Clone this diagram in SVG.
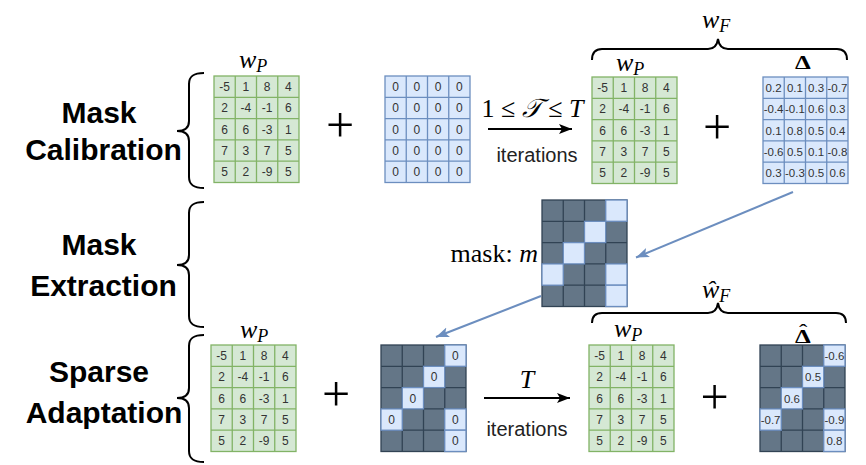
<svg xmlns="http://www.w3.org/2000/svg" width="866" height="465" viewBox="0 0 866 465">
<defs>
<style>
.gbox{fill:#d5e8d4;stroke:#82b366;stroke-width:1.3}
.ggrid{fill:none;stroke:#82b366;stroke-width:1.3}
.bbox{fill:#dae8fc;stroke:#6c8ebf;stroke-width:1.3}
.bgrid{fill:none;stroke:#6c8ebf;stroke-width:1.3}
.dbox{fill:#647687;stroke:#314354;stroke-width:1.3}
.dgrid{fill:none;stroke:#314354;stroke-width:1.3}
.lc{fill:#dae8fc;stroke:#6c8ebf;stroke-width:1.3}
.n{font-family:"Liberation Sans",Arial,sans-serif;font-size:12px;fill:#333;text-anchor:middle}
.d{font-family:"Liberation Sans",Arial,sans-serif;font-size:11.5px;fill:#333;text-anchor:middle}
.lab{font-family:"Liberation Sans",Arial,sans-serif;font-size:30px;font-weight:bold;fill:#000;text-anchor:middle}
.it{font-family:"Liberation Sans",Arial,sans-serif;font-size:20px;fill:#222;text-anchor:middle}
.m{font-family:"Liberation Serif","Times New Roman",serif;font-size:26px;fill:#000}
.dl{font-family:"Liberation Serif","Times New Roman",serif;font-size:18px;font-weight:bold;fill:#000}
.pl{font-family:"Liberation Serif","Times New Roman",serif;font-size:50px;fill:#000;text-anchor:middle}
.br{fill:none;stroke:#000;stroke-width:2}
.ka{fill:none;stroke:#000;stroke-width:2}
.ba{fill:none;stroke:#6c8ebf;stroke-width:2}
</style>
<marker id="ak" markerUnits="userSpaceOnUse" markerWidth="14" markerHeight="12" refX="13" refY="5" orient="auto">
<path d="M0,0 L13,5 L0,10 L3,5 Z" fill="#000"/>
</marker>
<marker id="ab" markerUnits="userSpaceOnUse" markerWidth="14" markerHeight="12" refX="13" refY="5" orient="auto">
<path d="M0,0 L13,5 L0,10 L3,5 Z" fill="#6c8ebf"/>
</marker>
</defs>
<rect width="866" height="465" fill="#fff"/>

<g id="stage-labels">
<text class="lab" x="99" y="123">Mask</text>
<text class="lab" x="103.5" y="160">Calibration</text>
<text class="lab" x="99" y="255">Mask</text>
<text class="lab" x="103.5" y="296">Extraction</text>
<text class="lab" x="99" y="382">Sparse</text>
<text class="lab" x="104" y="423">Adaptation</text>
</g>

<g id="braces">
<path class="br" d="M204,73 C194,73 189,76 189,84 L189,121 C189,128 185,131 177,131 C185,131 189,134 189,141 L189,177 C189,185 194,188 204,188"/>
<path class="br" d="M204,202 C194,202 189,205 189,213 L189,255 C189,262 185,265 177,265 C185,265 189,268 189,275 L189,316 C189,324 194,327 204,327"/>
<path class="br" d="M204,335 C194,335 189,338 189,346 L189,388 C189,395 185,398 177,398 C185,398 189,401 189,408 L189,451 C189,459 194,462 204,462"/>
<path class="br" d="M592,60 C592,53 595,49 602,49 L708,49 C714,49 717,46 718,39 C719,46 722,49 728,49 L837,49 C844,49 847,53 847,60"/>
<path class="br" d="M592,323 C592,316 595,313 602,313 L708,313 C714,313 717,310 718,303 C719,310 722,313 728,313 L836,313 C843,313 846,316 846,323"/>
</g>

<g id="wp-calib" transform="translate(214,76)">
<rect class="gbox" width="85" height="106.5"/>
<path class="ggrid" d="M21.25,0V106.5M42.5,0V106.5M63.75,0V106.5M0,21.3H85M0,42.6H85M0,63.9H85M0,85.2H85"/>
<text class="n" x="10.6" y="15">-5</text><text class="n" x="31.9" y="15">1</text><text class="n" x="53.1" y="15">8</text><text class="n" x="74.4" y="15">4</text>
<text class="n" x="10.6" y="36.3">2</text><text class="n" x="31.9" y="36.3">-4</text><text class="n" x="53.1" y="36.3">-1</text><text class="n" x="74.4" y="36.3">6</text>
<text class="n" x="10.6" y="57.6">6</text><text class="n" x="31.9" y="57.6">6</text><text class="n" x="53.1" y="57.6">-3</text><text class="n" x="74.4" y="57.6">1</text>
<text class="n" x="10.6" y="78.9">7</text><text class="n" x="31.9" y="78.9">3</text><text class="n" x="53.1" y="78.9">7</text><text class="n" x="74.4" y="78.9">5</text>
<text class="n" x="10.6" y="100.2">5</text><text class="n" x="31.9" y="100.2">2</text><text class="n" x="53.1" y="100.2">-9</text><text class="n" x="74.4" y="100.2">5</text>
</g>
<text id="wp-calib-label" class="m" x="239" y="68"><tspan font-style="italic">w</tspan><tspan font-style="italic" font-size="18" dy="4">P</tspan></text>

<g id="zero-calib" transform="translate(385,76)">
<rect class="bbox" width="85" height="106.5"/>
<path class="bgrid" d="M21.25,0V106.5M42.5,0V106.5M63.75,0V106.5M0,21.3H85M0,42.6H85M0,63.9H85M0,85.2H85"/>
<text class="n" x="10.6" y="15">0</text><text class="n" x="31.9" y="15">0</text><text class="n" x="53.1" y="15">0</text><text class="n" x="74.4" y="15">0</text>
<text class="n" x="10.6" y="36.3">0</text><text class="n" x="31.9" y="36.3">0</text><text class="n" x="53.1" y="36.3">0</text><text class="n" x="74.4" y="36.3">0</text>
<text class="n" x="10.6" y="57.6">0</text><text class="n" x="31.9" y="57.6">0</text><text class="n" x="53.1" y="57.6">0</text><text class="n" x="74.4" y="57.6">0</text>
<text class="n" x="10.6" y="78.9">0</text><text class="n" x="31.9" y="78.9">0</text><text class="n" x="53.1" y="78.9">0</text><text class="n" x="74.4" y="78.9">0</text>
<text class="n" x="10.6" y="100.2">0</text><text class="n" x="31.9" y="100.2">0</text><text class="n" x="53.1" y="100.2">0</text><text class="n" x="74.4" y="100.2">0</text>
</g>

<g id="wp-calib2" transform="translate(592,77)">
<rect class="gbox" width="85" height="106.5"/>
<path class="ggrid" d="M21.25,0V106.5M42.5,0V106.5M63.75,0V106.5M0,21.3H85M0,42.6H85M0,63.9H85M0,85.2H85"/>
<text class="n" x="10.6" y="15">-5</text><text class="n" x="31.9" y="15">1</text><text class="n" x="53.1" y="15">8</text><text class="n" x="74.4" y="15">4</text>
<text class="n" x="10.6" y="36.3">2</text><text class="n" x="31.9" y="36.3">-4</text><text class="n" x="53.1" y="36.3">-1</text><text class="n" x="74.4" y="36.3">6</text>
<text class="n" x="10.6" y="57.6">6</text><text class="n" x="31.9" y="57.6">6</text><text class="n" x="53.1" y="57.6">-3</text><text class="n" x="74.4" y="57.6">1</text>
<text class="n" x="10.6" y="78.9">7</text><text class="n" x="31.9" y="78.9">3</text><text class="n" x="53.1" y="78.9">7</text><text class="n" x="74.4" y="78.9">5</text>
<text class="n" x="10.6" y="100.2">5</text><text class="n" x="31.9" y="100.2">2</text><text class="n" x="53.1" y="100.2">-9</text><text class="n" x="74.4" y="100.2">5</text>
</g>
<text id="wp-calib2-label" class="m" x="616" y="71"><tspan font-style="italic">w</tspan><tspan font-style="italic" font-size="18" dy="4">P</tspan></text>

<g id="delta" transform="translate(763,77)">
<rect class="bbox" width="85" height="106.5"/>
<path class="bgrid" d="M21.25,0V106.5M42.5,0V106.5M63.75,0V106.5M0,21.3H85M0,42.6H85M0,63.9H85M0,85.2H85"/>
<text class="d" x="10.6" y="15">0.2</text><text class="d" x="31.9" y="15">0.1</text><text class="d" x="53.1" y="15">0.3</text><text class="d" x="74.4" y="15">-0.7</text>
<text class="d" x="10.6" y="36.3">-0.4</text><text class="d" x="31.9" y="36.3">-0.1</text><text class="d" x="53.1" y="36.3">0.6</text><text class="d" x="74.4" y="36.3">0.3</text>
<text class="d" x="10.6" y="57.6">0.1</text><text class="d" x="31.9" y="57.6">0.8</text><text class="d" x="53.1" y="57.6">0.5</text><text class="d" x="74.4" y="57.6">0.4</text>
<text class="d" x="10.6" y="78.9">-0.6</text><text class="d" x="31.9" y="78.9">0.5</text><text class="d" x="53.1" y="78.9">0.1</text><text class="d" x="74.4" y="78.9">-0.8</text>
<text class="d" x="10.6" y="100.2">0.3</text><text class="d" x="31.9" y="100.2">-0.3</text><text class="d" x="53.1" y="100.2">0.5</text><text class="d" x="74.4" y="100.2">0.6</text>
</g>
<text id="delta-label" class="dl" transform="translate(795,69) scale(1.4,1)">Δ</text>
<text id="wf-label" class="m" x="702" y="28"><tspan font-style="italic">w</tspan><tspan font-style="italic" font-size="18" dy="4">F</tspan></text>

<g id="mask" transform="translate(542,200)">
<rect class="dbox" width="85" height="106.5"/>
<path class="dgrid" d="M21.25,0V106.5M42.5,0V106.5M63.75,0V106.5M0,21.3H85M0,42.6H85M0,63.9H85M0,85.2H85"/>
<rect class="lc" x="63.75" y="0" width="21.25" height="21.3"/>
<rect class="lc" x="42.5" y="21.3" width="21.25" height="21.3"/>
<rect class="lc" x="21.25" y="42.6" width="21.25" height="21.3"/>
<rect class="lc" x="0" y="63.9" width="21.25" height="21.3"/>
<rect class="lc" x="63.75" y="63.9" width="21.25" height="21.3"/>
<rect class="lc" x="63.75" y="85.2" width="21.25" height="21.3"/>
</g>
<text id="mask-label" class="m" x="538" y="262" text-anchor="end" font-size="27">mask: <tspan font-style="italic">m</tspan></text>

<g id="wp-adapt" transform="translate(211,345)">
<rect class="gbox" width="85" height="106.5"/>
<path class="ggrid" d="M21.25,0V106.5M42.5,0V106.5M63.75,0V106.5M0,21.3H85M0,42.6H85M0,63.9H85M0,85.2H85"/>
<text class="n" x="10.6" y="15">-5</text><text class="n" x="31.9" y="15">1</text><text class="n" x="53.1" y="15">8</text><text class="n" x="74.4" y="15">4</text>
<text class="n" x="10.6" y="36.3">2</text><text class="n" x="31.9" y="36.3">-4</text><text class="n" x="53.1" y="36.3">-1</text><text class="n" x="74.4" y="36.3">6</text>
<text class="n" x="10.6" y="57.6">6</text><text class="n" x="31.9" y="57.6">6</text><text class="n" x="53.1" y="57.6">-3</text><text class="n" x="74.4" y="57.6">1</text>
<text class="n" x="10.6" y="78.9">7</text><text class="n" x="31.9" y="78.9">3</text><text class="n" x="53.1" y="78.9">7</text><text class="n" x="74.4" y="78.9">5</text>
<text class="n" x="10.6" y="100.2">5</text><text class="n" x="31.9" y="100.2">2</text><text class="n" x="53.1" y="100.2">-9</text><text class="n" x="74.4" y="100.2">5</text>
</g>
<text id="wp-adapt-label" class="m" x="240" y="338"><tspan font-style="italic">w</tspan><tspan font-style="italic" font-size="18" dy="4">P</tspan></text>

<g id="masked-zero" transform="translate(381,345)">
<rect class="dbox" width="85" height="106.5"/>
<path class="dgrid" d="M21.25,0V106.5M42.5,0V106.5M63.75,0V106.5M0,21.3H85M0,42.6H85M0,63.9H85M0,85.2H85"/>
<rect class="lc" x="63.75" y="0" width="21.25" height="21.3"/>
<rect class="lc" x="42.5" y="21.3" width="21.25" height="21.3"/>
<rect class="lc" x="21.25" y="42.6" width="21.25" height="21.3"/>
<rect class="lc" x="0" y="63.9" width="21.25" height="21.3"/>
<rect class="lc" x="63.75" y="63.9" width="21.25" height="21.3"/>
<rect class="lc" x="63.75" y="85.2" width="21.25" height="21.3"/>
<text class="n" x="74.4" y="15">0</text>
<text class="n" x="53.1" y="36.3">0</text>
<text class="n" x="31.9" y="57.6">0</text>
<text class="n" x="10.6" y="78.9">0</text>
<text class="n" x="74.4" y="78.9">0</text>
<text class="n" x="74.4" y="100.2">0</text>
</g>

<g id="wp-adapt2" transform="translate(589,345)">
<rect class="gbox" width="85" height="106.5"/>
<path class="ggrid" d="M21.25,0V106.5M42.5,0V106.5M63.75,0V106.5M0,21.3H85M0,42.6H85M0,63.9H85M0,85.2H85"/>
<text class="n" x="10.6" y="15">-5</text><text class="n" x="31.9" y="15">1</text><text class="n" x="53.1" y="15">8</text><text class="n" x="74.4" y="15">4</text>
<text class="n" x="10.6" y="36.3">2</text><text class="n" x="31.9" y="36.3">-4</text><text class="n" x="53.1" y="36.3">-1</text><text class="n" x="74.4" y="36.3">6</text>
<text class="n" x="10.6" y="57.6">6</text><text class="n" x="31.9" y="57.6">6</text><text class="n" x="53.1" y="57.6">-3</text><text class="n" x="74.4" y="57.6">1</text>
<text class="n" x="10.6" y="78.9">7</text><text class="n" x="31.9" y="78.9">3</text><text class="n" x="53.1" y="78.9">7</text><text class="n" x="74.4" y="78.9">5</text>
<text class="n" x="10.6" y="100.2">5</text><text class="n" x="31.9" y="100.2">2</text><text class="n" x="53.1" y="100.2">-9</text><text class="n" x="74.4" y="100.2">5</text>
</g>
<text id="wp-adapt2-label" class="m" x="614" y="337"><tspan font-style="italic">w</tspan><tspan font-style="italic" font-size="18" dy="4">P</tspan></text>

<g id="delta-hat" transform="translate(760,345)">
<rect class="dbox" width="85" height="106.5"/>
<path class="dgrid" d="M21.25,0V106.5M42.5,0V106.5M63.75,0V106.5M0,21.3H85M0,42.6H85M0,63.9H85M0,85.2H85"/>
<rect class="lc" x="63.75" y="0" width="21.25" height="21.3"/>
<rect class="lc" x="42.5" y="21.3" width="21.25" height="21.3"/>
<rect class="lc" x="21.25" y="42.6" width="21.25" height="21.3"/>
<rect class="lc" x="0" y="63.9" width="21.25" height="21.3"/>
<rect class="lc" x="63.75" y="63.9" width="21.25" height="21.3"/>
<rect class="lc" x="63.75" y="85.2" width="21.25" height="21.3"/>
<text class="d" x="74.4" y="15">-0.6</text>
<text class="d" x="53.1" y="36.3">0.5</text>
<text class="d" x="31.9" y="57.6">0.6</text>
<text class="d" x="10.6" y="78.9">-0.7</text>
<text class="d" x="74.4" y="78.9">-0.9</text>
<text class="d" x="74.4" y="100.2">0.8</text>
</g>
<text id="delta-hat-label" class="dl" transform="translate(795,343) scale(1.4,1)">Δ<tspan dx="-8.5" dy="-6" font-weight="normal">ˆ</tspan></text>
<text id="wfhat-label" class="m" x="702" y="298"><tspan font-style="italic">ŵ</tspan><tspan font-style="italic" font-size="18" dy="4">F</tspan></text>

<g id="plus-signs">
<text class="pl" x="340" y="142">+</text>
<text class="pl" x="717" y="143.5">+</text>
<text class="pl" x="336" y="411">+</text>
<text class="pl" x="714.5" y="413.5">+</text>
</g>

<g id="connectors">
<path class="ka" d="M488,129 L572,129" marker-end="url(#ak)"/>
<path class="ka" d="M484,398 L570,398" marker-end="url(#ak)"/>
<path class="ba" d="M793,192 L636,257.5" marker-end="url(#ab)"/>
<path class="ba" d="M541,296 L436,337" marker-end="url(#ab)"/>
</g>

<g id="arrow-labels">
<text class="m" x="532.5" y="117" text-anchor="middle" font-size="27">1 ≤ <tspan font-style="italic" font-family="'DejaVu Serif',serif">𝒯</tspan> ≤ <tspan font-style="italic">T</tspan></text>
<text class="it" x="537" y="162">iterations</text>
<text class="m" x="527" y="388" text-anchor="middle" font-size="24" font-style="italic">T</text>
<text class="it" x="527" y="436">iterations</text>
</g>
</svg>
